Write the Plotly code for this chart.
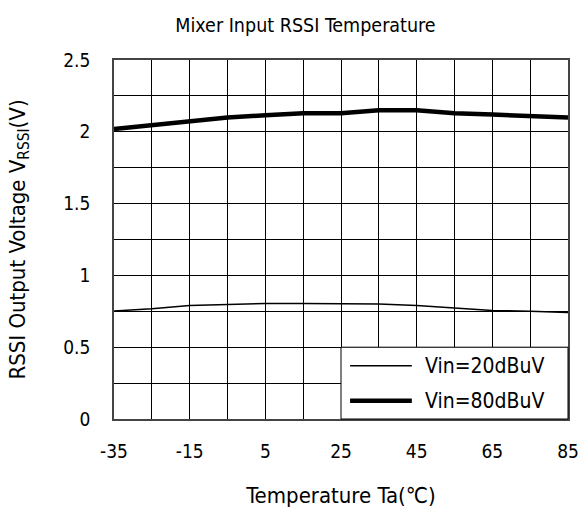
import plotly.graph_objects as go

temps = [-35, -25, -15, -5, 5, 15, 25, 35, 45, 55, 65, 75, 85]
v20 = [0.752, 0.768, 0.79, 0.80, 0.805, 0.805, 0.805, 0.80, 0.79, 0.773, 0.756, 0.75, 0.742]
v80 = [2.02, 2.045, 2.07, 2.10, 2.115, 2.13, 2.13, 2.15, 2.15, 2.13, 2.12, 2.11, 2.10]
names = ["Vin=20dBuV", "Vin=80dBuV"]
x_ticks = [-35, -15, 5, 25, 45, 65, 85]
x_tick_text = ["-35", "-15", "5", "25", "45", "65", "85"]
y_ticks = [0, 0.5, 1, 1.5, 2, 2.5]
y_tick_text = ["0", "0.5", "1", "1.5", "2", "2.5"]

FONT = "DejaVu Sans Condensed, DejaVu Sans"
fig = go.Figure()
fig.add_trace(go.Scatter(x=temps, y=v20, mode="lines", name=names[0],
                         line=dict(color="black", width=1.5), showlegend=False))
fig.add_trace(go.Scatter(x=temps, y=v80, mode="lines", name=names[1],
                         line=dict(color="black", width=4.5), showlegend=False))

# legend box (white, covering grid in lower-right)
fig.add_shape(type="rect", xref="x domain", yref="y domain", x0=0.5, x1=1, y0=0, y1=0.2,
              fillcolor="white", line=dict(color="black", width=1), layer="above")
for i, (nm, w) in enumerate(zip(names, [1.5, 4.5])):
    yy = 0.148 - i * 0.097
    fig.add_shape(type="line", xref="x domain", yref="y domain", x0=0.52, x1=0.656, y0=yy, y1=yy,
                  line=dict(color="black", width=w), layer="above")
    fig.add_annotation(xref="x domain", yref="y domain", x=0.68, y=yy, text=nm, showarrow=False,
                       xanchor="left", yanchor="middle", font=dict(family=FONT, size=21, color="black"))

fig.update_layout(
    width=582, height=510,
    margin=dict(l=114, r=14, t=60, b=91),
    paper_bgcolor="white", plot_bgcolor="white",
    font=dict(family=FONT, size=19, color="black"),
    title=dict(text="Mixer Input RSSI Temperature", x=305.5 / 582, xanchor="center",
               y=1 - 25 / 510, yanchor="middle", font=dict(family=FONT, size=19.5, color="black")),
    showlegend=False,
)
fig.update_xaxes(range=[-35, 85], tickvals=x_ticks, ticktext=x_tick_text, showgrid=True,
                 gridcolor="black", gridwidth=1,
                 minor=dict(dtick=10, tick0=-35, showgrid=True, gridcolor="black", gridwidth=1),
                 showline=True, linecolor="#444", linewidth=1.5, mirror=True, zeroline=False,
                 ticks="", ticklabelstandoff=14, automargin=False,
                 title=dict(text="Temperature Ta(℃)", standoff=27, font=dict(family=FONT, size=22)),
                 tickfont=dict(family=FONT, size=19))
fig.update_yaxes(range=[0, 2.5], tickvals=y_ticks, ticktext=y_tick_text, showgrid=True,
                 gridcolor="black", gridwidth=1,
                 minor=dict(dtick=0.25, tick0=0, showgrid=True, gridcolor="black", gridwidth=1),
                 showline=True, linecolor="#444", linewidth=1.5, mirror=True, zeroline=False,
                 ticks="", ticklabelstandoff=18, automargin=False,
                 title=dict(text="RSSI Output Voltage V<sub>RSSI</sub>(V)", standoff=32,
                            font=dict(family=FONT, size=22)),
                 tickfont=dict(family=FONT, size=19))

fig.write_html("out.html")
